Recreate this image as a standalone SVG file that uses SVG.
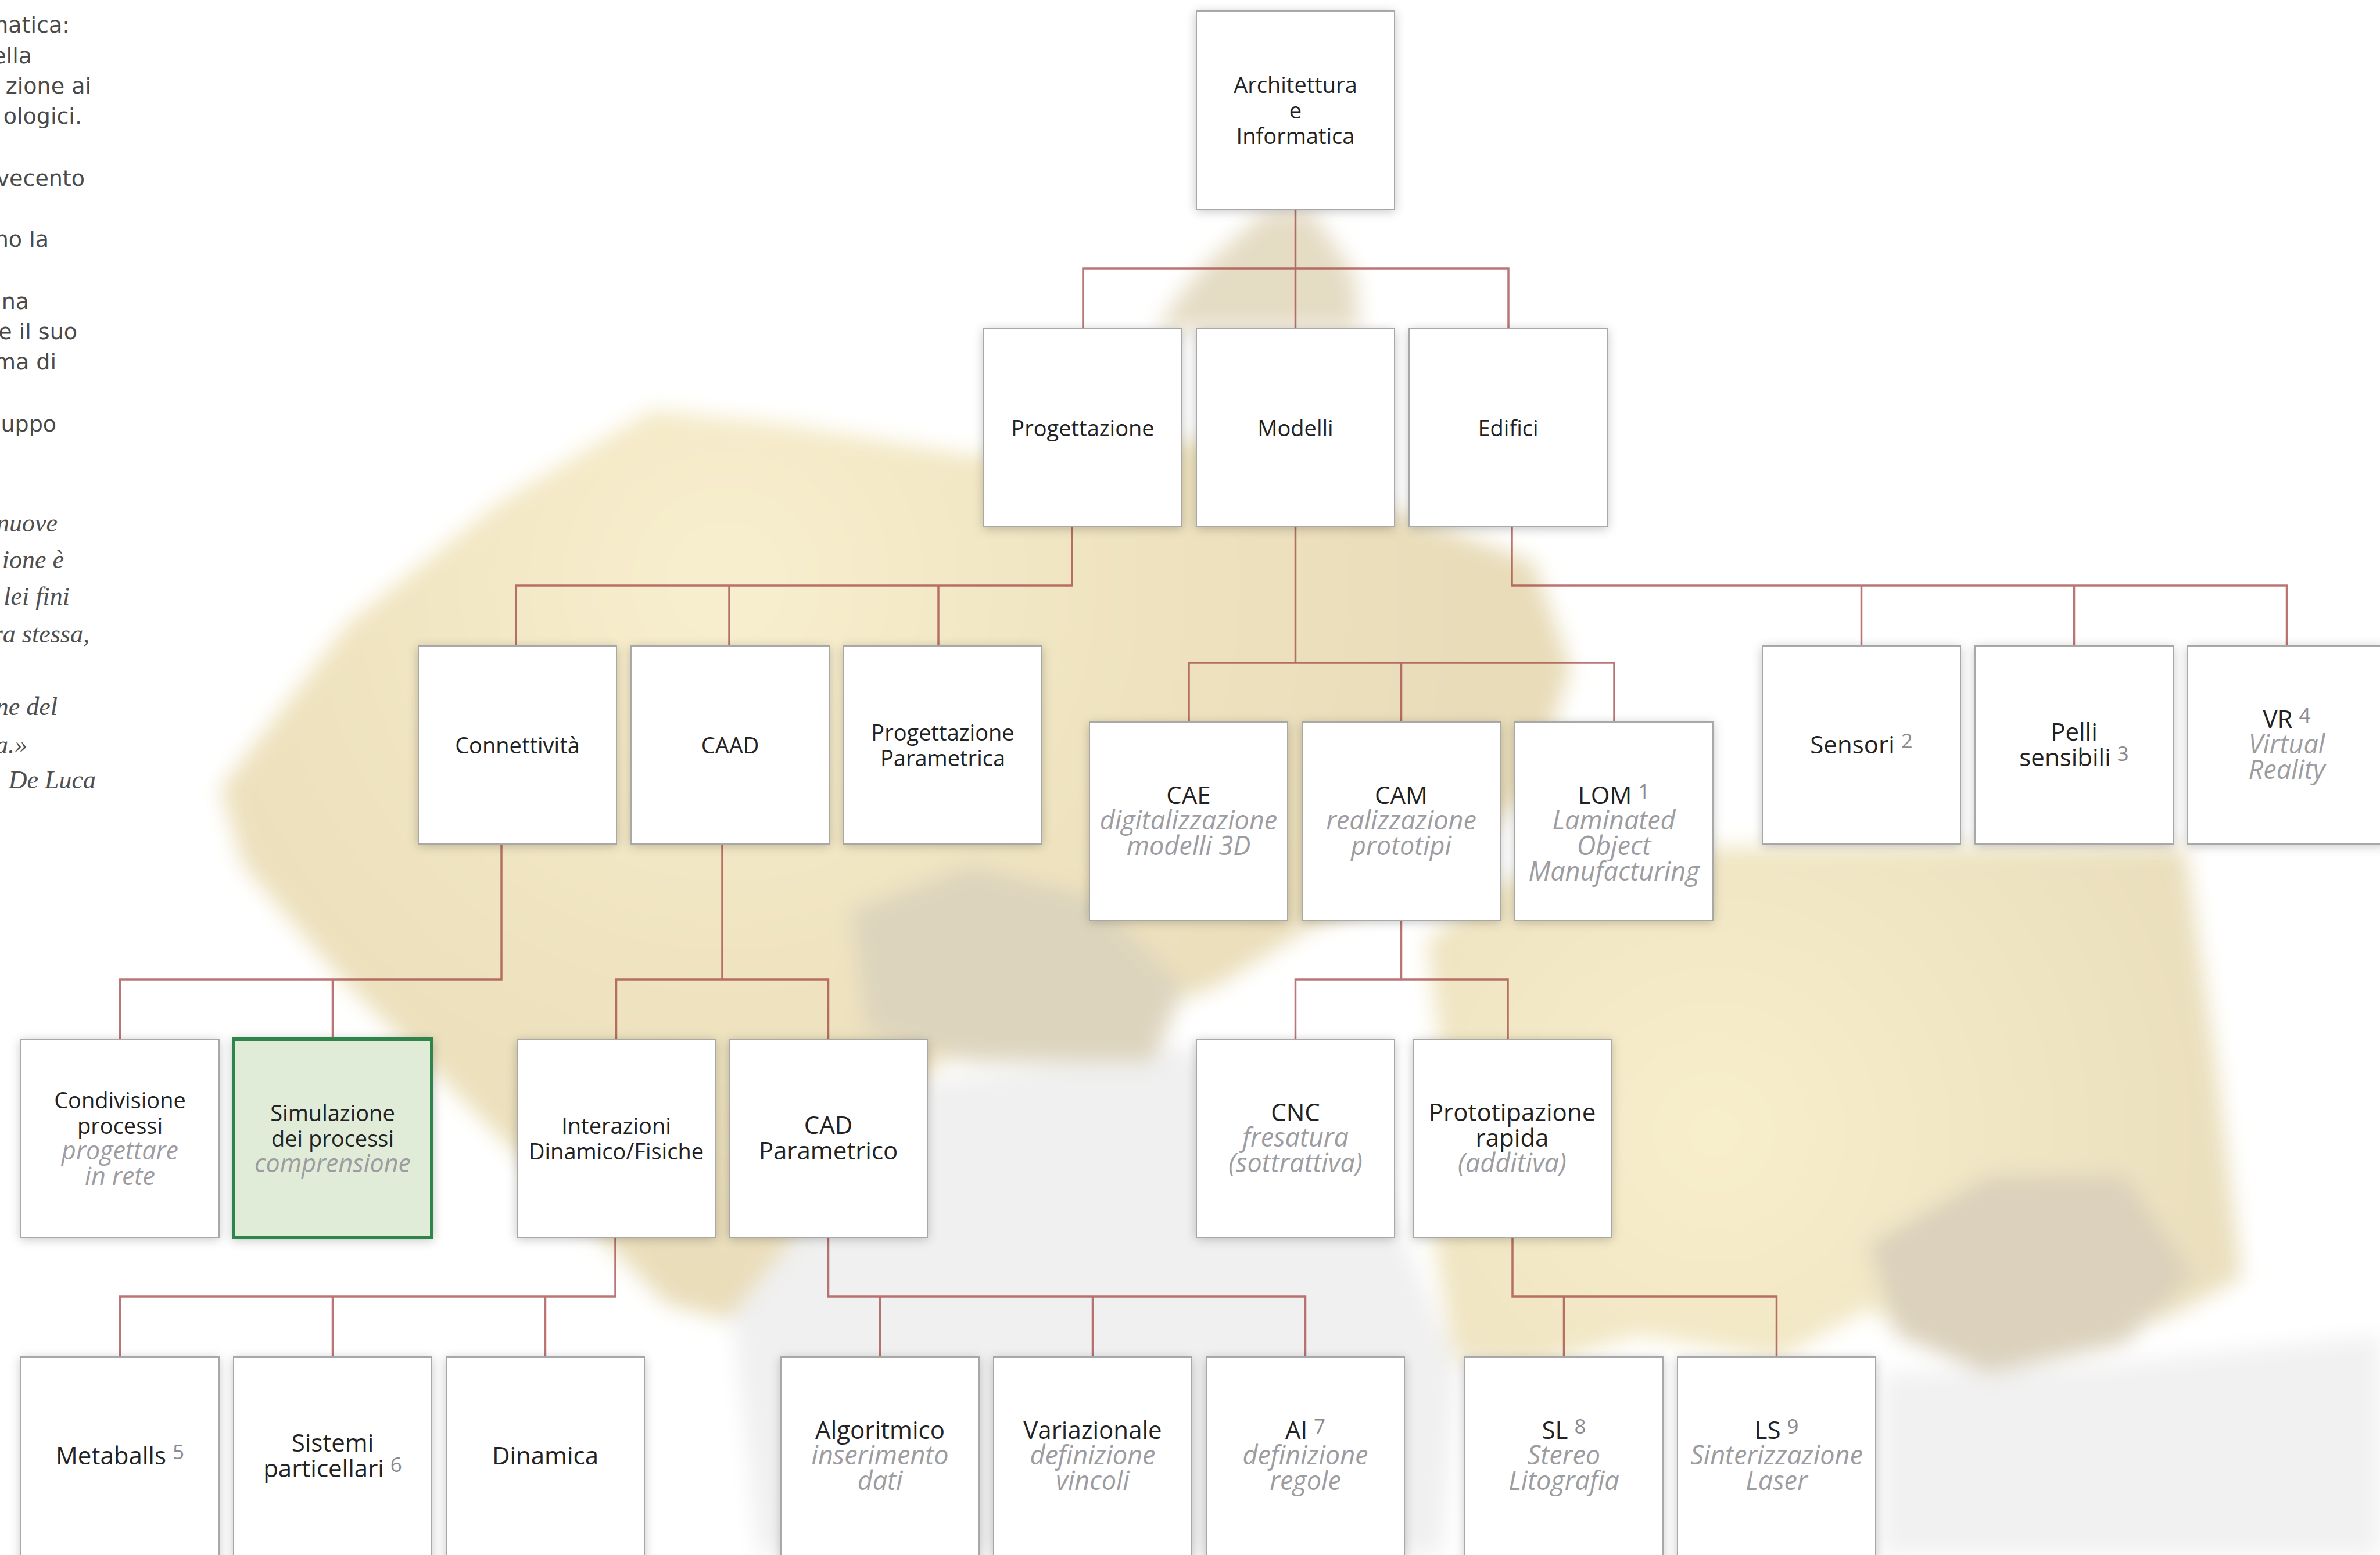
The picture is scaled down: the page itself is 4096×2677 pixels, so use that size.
<svg xmlns="http://www.w3.org/2000/svg" width="4096" height="2677" viewBox="0 0 4096 2677">
<defs>
<style>
.bx{fill:#fff;stroke:#a8a8a8;stroke-width:2;filter:url(#sh)}
.gr{fill:#e0ecd8;stroke:#2e8548;stroke-width:6;filter:url(#sh)}
.tx{font-family:"Open Sans","Noto Sans",sans-serif;text-anchor:middle;fill:#222}
.s{font-size:38px}
.L{font-size:42px}
.it{font-style:italic;fill:#9c9ca1;font-size:43px}
.L .it{font-size:45px}
.sup{font-size:35px;fill:#8a8a8e;font-style:normal}
.cn{fill:none;stroke:#a04040;stroke-opacity:.72;stroke-width:3.5}
.lt{font-family:"DejaVu Sans",sans-serif;font-size:38px;fill:#4a4a4a;text-anchor:end}
.li{font-family:"Liberation Serif",serif;font-style:italic;font-size:44px;fill:#505050;text-anchor:end}
</style>
<filter id="sh" x="-20%" y="-20%" width="140%" height="140%"><feDropShadow dx="0" dy="3" stdDeviation="9" flood-color="#000" flood-opacity="0.22"/></filter>
<filter id="bl" x="-10%" y="-10%" width="120%" height="120%"><feGaussianBlur stdDeviation="18"/></filter>
<radialGradient id="gA" gradientUnits="userSpaceOnUse" cx="1250" cy="1000" r="1300"><stop offset="0" stop-color="#f8efcf"/><stop offset="0.5" stop-color="#f0e4c0"/><stop offset="1" stop-color="#e8dcb9"/></radialGradient>
<radialGradient id="gB" gradientUnits="userSpaceOnUse" cx="2950" cy="1950" r="900"><stop offset="0" stop-color="#f8eecc"/><stop offset="1" stop-color="#eadfbd"/></radialGradient>
</defs>
<rect width="4096" height="2677" fill="#fff"/>
<g id="background" filter="url(#bl)">
<polygon fill="#f0f0f0" points="1254,2194 1463,1881 2037,1802 2351,1985 2508,2351 2481,2677 1306,2677"/>
<polygon fill="#f1f1f1" points="3239,2364 3604,2351 4096,2299 4096,2677 3239,2677"/>
<polygon fill="url(#gA)" points="379,1358 601,1071 862,862 1123,705 1358,731 1672,784 2090,757 2351,862 2638,966 2703,1149 2638,1358 2460,1520 2250,1600 2090,1700 1828,1790 1619,1828 1463,1985 1358,2142 1254,2272 1149,2246 993,2090 784,1881 575,1672 418,1489"/>
<polygon fill="#ddd4bd" points="1463,1567 1672,1489 1881,1541 2037,1698 1985,1828 1672,1828 1489,1776"/>
<polygon fill="#e5dcc4" points="2180,362 2255,362 2330,470 2340,566 1990,566 2060,470"/>
<polygon fill="url(#gB)" points="2455,1619 2586,1515 2941,1458 3761,1458 3814,1828 3858,2199 3738,2265 3417,2356 3215,2254 3061,2338 2821,2299 2638,2351 2502,2338 2466,2126 2481,1828"/>
<polygon fill="#dbd1bc" points="3215,2142 3422,2024 3657,2024 3774,2194 3657,2312 3422,2364 3265,2299"/>
</g>
<g id="intro-text">
<text class="lt" x="120" y="56">matica:</text>
<text class="lt" x="55" y="109">ella</text>
<text class="lt" x="157" y="161">zione ai</text>
<text class="lt" x="141" y="213">ologici.</text>
<text class="lt" x="146" y="320">vecento</text>
<text class="lt" x="84" y="425">no la</text>
<text class="lt" x="50" y="532">na</text>
<text class="lt" x="133" y="584">e il suo</text>
<text class="lt" x="97" y="636">ma di</text>
<text class="lt" x="97" y="743">uppo</text>
<text class="li" x="99" y="915">nuove</text>
<text class="li" x="110" y="978">ione è</text>
<text class="li" x="120" y="1041">lei fini</text>
<text class="li" x="154" y="1106">ra stessa,</text>
<text class="li" x="99" y="1231">ne del</text>
<text class="li" x="47" y="1297">a.»</text>
<text class="li" x="165" y="1357">De Luca</text>
</g>
<g id="connectors">
<path class="cn" d="M2229.5 360V566M1864 566V462H2596V566"/>
<path class="cn" d="M1845 907V1008H888V1112M1255 1008V1112M1615 1008V1112"/>
<path class="cn" d="M2229.5 907V1141M2046 1243V1141H2778V1243M2411.5 1141V1243"/>
<path class="cn" d="M2602 907V1008H3935.5V1112M3203.5 1008V1112M3569.5 1008V1112"/>
<path class="cn" d="M863 1453V1686H206.5V1789M572.5 1686V1789"/>
<path class="cn" d="M1243 1453V1686M1060.5 1789V1686H1425.5V1789"/>
<path class="cn" d="M2411.5 1584V1686M2229.5 1789V1686H2595V1789"/>
<path class="cn" d="M1059 2130V2232H206.5V2336M572.5 2232V2336M938.5 2232V2336"/>
<path class="cn" d="M1425.5 2130V2232H2246.5V2336M1514.5 2232V2336M1880.5 2232V2336"/>
<path class="cn" d="M2603 2130V2232H3057.5V2336M2691.5 2232V2336"/>
</g>
<g id="n-arch"><rect class="bx" x="2059" y="19" width="341" height="341"/><text class="tx s"><tspan x="2229.5" y="159.5">Architettura</tspan><tspan x="2229.5" y="203.5">e</tspan><tspan x="2229.5" y="247.5">Informatica</tspan></text></g>
<g id="n-prog"><rect class="bx" x="1693" y="566" width="341" height="341"/><text class="tx s" x="1863.5" y="750.5">Progettazione</text></g>
<g id="n-mod"><rect class="bx" x="2059" y="566" width="341" height="341"/><text class="tx s" x="2229.5" y="750.5">Modelli</text></g>
<g id="n-edif"><rect class="bx" x="2425" y="566" width="341" height="341"/><text class="tx s" x="2595.5" y="750.5">Edifici</text></g>
<g id="n-conn"><rect class="bx" x="720" y="1112" width="341" height="341"/><text class="tx s" x="890.5" y="1296.5">Connettività</text></g>
<g id="n-caad"><rect class="bx" x="1086" y="1112" width="341" height="341"/><text class="tx s" x="1256.5" y="1296.5">CAAD</text></g>
<g id="n-pparam"><rect class="bx" x="1452" y="1112" width="341" height="341"/><text class="tx s"><tspan x="1622.5" y="1274.5">Progettazione</tspan><tspan x="1622.5" y="1318.5">Parametrica</tspan></text></g>
<g id="n-sens"><rect class="bx" x="3033" y="1112" width="341" height="341"/><text class="tx L" x="3203.5" y="1296.5">Sensori <tspan class="sup" dy="-9">2</tspan></text></g>
<g id="n-pelli"><rect class="bx" x="3399" y="1112" width="341" height="341"/><text class="tx L"><tspan x="3569.5" y="1274.5">Pelli</tspan><tspan x="3569.5" y="1318.5">sensibili <tspan class="sup" dy="-9">3</tspan></tspan></text></g>
<g id="n-vr"><rect class="bx" x="3765" y="1112" width="341" height="341"/><text class="tx L"><tspan x="3935.5" y="1252.5">VR <tspan class="sup" dy="-9">4</tspan></tspan><tspan class="it" x="3935.5" y="1296.5">Virtual</tspan><tspan class="it" x="3935.5" y="1340.5">Reality</tspan></text></g>
<g id="n-cae"><rect class="bx" x="1875" y="1243" width="341" height="341"/><text class="tx L"><tspan x="2045.5" y="1383.5">CAE</tspan><tspan class="it" x="2045.5" y="1427.5">digitalizzazione</tspan><tspan class="it" x="2045.5" y="1471.5">modelli 3D</tspan></text></g>
<g id="n-cam"><rect class="bx" x="2241" y="1243" width="341" height="341"/><text class="tx L"><tspan x="2411.5" y="1383.5">CAM</tspan><tspan class="it" x="2411.5" y="1427.5">realizzazione</tspan><tspan class="it" x="2411.5" y="1471.5">prototipi</tspan></text></g>
<g id="n-lom"><rect class="bx" x="2607" y="1243" width="341" height="341"/><text class="tx L"><tspan x="2777.5" y="1383.5">LOM <tspan class="sup" dy="-9">1</tspan></tspan><tspan class="it" x="2777.5" y="1427.5">Laminated</tspan><tspan class="it" x="2777.5" y="1471.5">Object</tspan><tspan class="it" x="2777.5" y="1515.5">Manufacturing</tspan></text></g>
<g id="n-cond"><rect class="bx" x="36" y="1789" width="341" height="341"/><text class="tx s"><tspan x="206.5" y="1907.5">Condivisione</tspan><tspan x="206.5" y="1951.5">processi</tspan><tspan class="it" x="206.5" y="1995.5">progettare</tspan><tspan class="it" x="206.5" y="2039.5">in rete</tspan></text></g>
<g id="n-sim"><rect class="gr" x="402" y="1789" width="341" height="341"/><text class="tx s"><tspan x="572.5" y="1929.5">Simulazione</tspan><tspan x="572.5" y="1973.5">dei processi</tspan><tspan class="it" x="572.5" y="2017.5">comprensione</tspan></text></g>
<g id="n-inter"><rect class="bx" x="890" y="1789" width="341" height="341"/><text class="tx s"><tspan x="1060.5" y="1951.5">Interazioni</tspan><tspan x="1060.5" y="1995.5">Dinamico/Fisiche</tspan></text></g>
<g id="n-cadp"><rect class="bx" x="1255" y="1789" width="341" height="341"/><text class="tx L"><tspan x="1425.5" y="1951.5">CAD</tspan><tspan x="1425.5" y="1995.5">Parametrico</tspan></text></g>
<g id="n-cnc"><rect class="bx" x="2059" y="1789" width="341" height="341"/><text class="tx L"><tspan x="2229.5" y="1929.5">CNC</tspan><tspan class="it" x="2229.5" y="1973.5">fresatura</tspan><tspan class="it" x="2229.5" y="2017.5">(sottrattiva)</tspan></text></g>
<g id="n-proto"><rect class="bx" x="2432" y="1789" width="341" height="341"/><text class="tx L"><tspan x="2602.5" y="1929.5">Prototipazione</tspan><tspan x="2602.5" y="1973.5">rapida</tspan><tspan class="it" x="2602.5" y="2017.5">(additiva)</tspan></text></g>
<g id="n-meta"><rect class="bx" x="36" y="2336" width="341" height="360"/><text class="tx L" x="206.5" y="2520.5">Metaballs <tspan class="sup" dy="-9">5</tspan></text></g>
<g id="n-sist"><rect class="bx" x="402" y="2336" width="341" height="360"/><text class="tx L"><tspan x="572.5" y="2498.5">Sistemi</tspan><tspan x="572.5" y="2542.5">particellari <tspan class="sup" dy="-9">6</tspan></tspan></text></g>
<g id="n-dina"><rect class="bx" x="768" y="2336" width="341" height="360"/><text class="tx L" x="938.5" y="2520.5">Dinamica</text></g>
<g id="n-algo"><rect class="bx" x="1344" y="2336" width="341" height="360"/><text class="tx L"><tspan x="1514.5" y="2476.5">Algoritmico</tspan><tspan class="it" x="1514.5" y="2520.5">inserimento</tspan><tspan class="it" x="1514.5" y="2564.5">dati</tspan></text></g>
<g id="n-var"><rect class="bx" x="1710" y="2336" width="341" height="360"/><text class="tx L"><tspan x="1880.5" y="2476.5">Variazionale</tspan><tspan class="it" x="1880.5" y="2520.5">definizione</tspan><tspan class="it" x="1880.5" y="2564.5">vincoli</tspan></text></g>
<g id="n-ai"><rect class="bx" x="2076" y="2336" width="341" height="360"/><text class="tx L"><tspan x="2246.5" y="2476.5">AI <tspan class="sup" dy="-9">7</tspan></tspan><tspan class="it" x="2246.5" y="2520.5">definizione</tspan><tspan class="it" x="2246.5" y="2564.5">regole</tspan></text></g>
<g id="n-sl"><rect class="bx" x="2521" y="2336" width="341" height="360"/><text class="tx L"><tspan x="2691.5" y="2476.5">SL <tspan class="sup" dy="-9">8</tspan></tspan><tspan class="it" x="2691.5" y="2520.5">Stereo</tspan><tspan class="it" x="2691.5" y="2564.5">Litografia</tspan></text></g>
<g id="n-ls"><rect class="bx" x="2887" y="2336" width="341" height="360"/><text class="tx L"><tspan x="3057.5" y="2476.5">LS <tspan class="sup" dy="-9">9</tspan></tspan><tspan class="it" x="3057.5" y="2520.5">Sinterizzazione</tspan><tspan class="it" x="3057.5" y="2564.5">Laser</tspan></text></g>
</svg>
